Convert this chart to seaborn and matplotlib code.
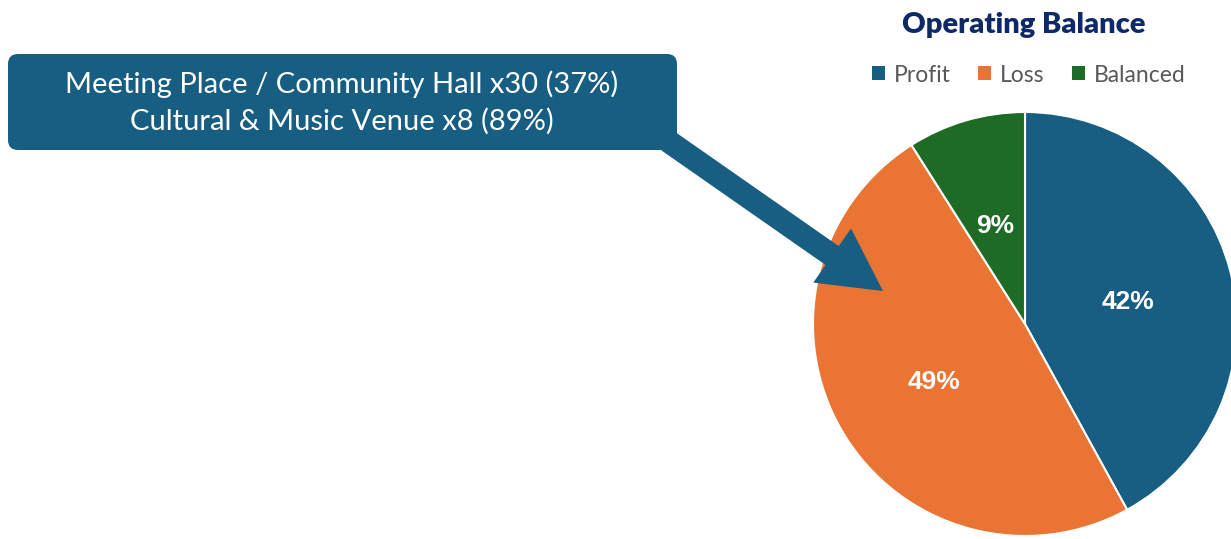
import matplotlib
matplotlib.use("Agg")
import matplotlib.pyplot as plt
import seaborn as sns
from matplotlib.patches import FancyBboxPatch, FancyArrow, Patch

categories = ["Profit", "Loss", "Balanced"]
values = [42, 49, 9]
colors = ["#175E82", "#E97434", "#1D6B26"]
title = "Operating Balance"
callout_lines = ["Meeting Place / Community Hall x30 (37%)",
                 "Cultural & Music Venue x8 (89%)"]

sns.set_theme(style="white")
plt.rcParams['font.family'] = ['Lato', 'DejaVu Sans']

W, H = 1231, 539
fig = plt.figure(figsize=(W / 100, H / 100), dpi=100)
fig.patch.set_facecolor("white")

# pie axes: center (1025, 323) px, radius 212 px
cx, cy, r = 1025, 324, 212
ax = fig.add_axes([(cx - r) / W, (H - cy - r) / H, 2 * r / W, 2 * r / H])
wedges, texts, autotexts = ax.pie(
    values, colors=colors, startangle=90, counterclock=False,
    autopct=lambda p: f"{p:.0f}%", pctdistance=0.5, radius=1,
    wedgeprops=dict(edgecolor="white", linewidth=1.5),
    textprops=dict(color="white", fontsize=19, fontweight="bold",
                   family=["Liberation Sans", "DejaVu Sans"]))
for t in autotexts:
    x, y = t.get_position()
    t.set_position((x, y - 4 / r))
ax.set_xlim(-1, 1)
ax.set_ylim(-1, 1)
ax.set_aspect("equal")
ax.axis("off")
for w in wedges:
    w.set_clip_on(False)

# overlay axes in pixel coordinates
ov = fig.add_axes([0, 0, 1, 1], zorder=5)
ov.set_xlim(0, W)
ov.set_ylim(H, 0)
ov.axis("off")
ov.patch.set_alpha(0)

box = FancyBboxPatch((8 + 10, 54 + 10), 669 - 20, 96 - 20,
                     boxstyle="round,pad=10", facecolor="#175E82",
                     edgecolor="none")
ov.add_patch(box)
arrow = FancyArrow(668, 141, 215, 150, width=23, head_width=66,
                   head_length=62, length_includes_head=True,
                   facecolor="#175E82", edgecolor="none")
ov.add_patch(arrow)
ov.text(342, 84, callout_lines[0], ha="center", va="center",
        color="white", fontsize=21)
ov.text(342, 121, callout_lines[1], ha="center", va="center",
        color="white", fontsize=21)

fig.text(1024 / W, 1 - 25 / H, title, ha="center", va="center",
         fontsize=21, fontweight="heavy", color="#0E2A66")

handles = [Patch(facecolor=c, edgecolor="none") for c in colors]
fig.legend(handles, categories, loc="center", bbox_to_anchor=(1029 / W, 1 - 75 / H),
           ncol=3, frameon=False, handlelength=0.55, handleheight=0.55,
           handletextpad=0.4, columnspacing=1.2,
           prop=dict(size=16.5), labelcolor="#595959")

fig.savefig("out.png", dpi=100)
